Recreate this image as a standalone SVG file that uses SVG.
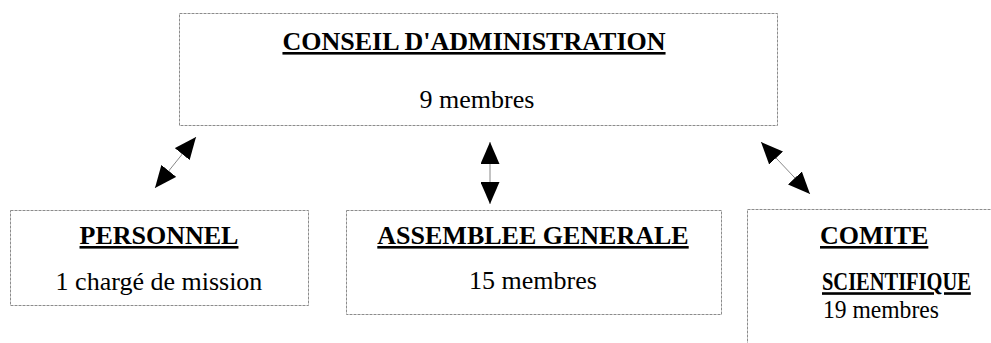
<svg xmlns="http://www.w3.org/2000/svg" width="991" height="343" viewBox="0 0 991 343">
<style>
.box{fill:#fff;stroke:#8c8c8c;stroke-width:1;stroke-dasharray:3 1}
.h{font-weight:bold;font-size:26px;fill:#000;text-decoration:underline;text-decoration-thickness:2px}
.t{font-size:26px;fill:#000}
.c{text-anchor:middle}
.link{stroke:#888;stroke-width:1;fill:none;marker-start:url(#ah);marker-end:url(#ah)}
</style>
<defs>
<marker id="ah" markerUnits="userSpaceOnUse" markerWidth="22" markerHeight="19" refX="22" refY="9.5" orient="auto-start-reverse" viewBox="0 0 22 19">
<path d="M0,0 L22,9.5 L0,19 Z" fill="#000"/>
</marker>
</defs>
<rect width="991" height="343" fill="#fff"/>
<g font-family="Liberation Serif, DejaVu Serif, serif">
<g id="conseil">
<rect class="box" x="179.5" y="13.5" width="598" height="112"/>
<text class="h c" x="474" y="50">CONSEIL D'ADMINISTRATION</text>
<text class="t c" x="477" y="108">9 membres</text>
</g>
<g id="personnel">
<rect class="box" x="10.5" y="210.5" width="298" height="95"/>
<text class="h c" x="159" y="244">PERSONNEL</text>
<text class="t c" x="159" y="290">1 chargé de mission</text>
</g>
<g id="assemblee">
<rect class="box" x="346.5" y="210.5" width="375" height="104"/>
<text class="h c" x="533" y="244">ASSEMBLEE GENERALE</text>
<text class="t c" x="533" y="289">15 membres</text>
</g>
<g id="comite">
<rect class="box" x="747.5" y="209.5" width="260" height="150"/>
<text class="h" x="820" y="244">COMITE </text>
<text class="h" x="0" y="0" transform="translate(822,290) scale(0.787,1)">SCIENTIFIQUE</text>
<text class="t" x="0" y="0" transform="translate(823,318) scale(0.907,1)">19 membres</text>
</g>
</g>
<g id="connectors">
<line class="link" x1="196" y1="137" x2="155" y2="188"/>
<line class="link" x1="490" y1="142" x2="490" y2="204"/>
<line class="link" x1="761" y1="142" x2="810" y2="194"/>
</g>
</svg>
